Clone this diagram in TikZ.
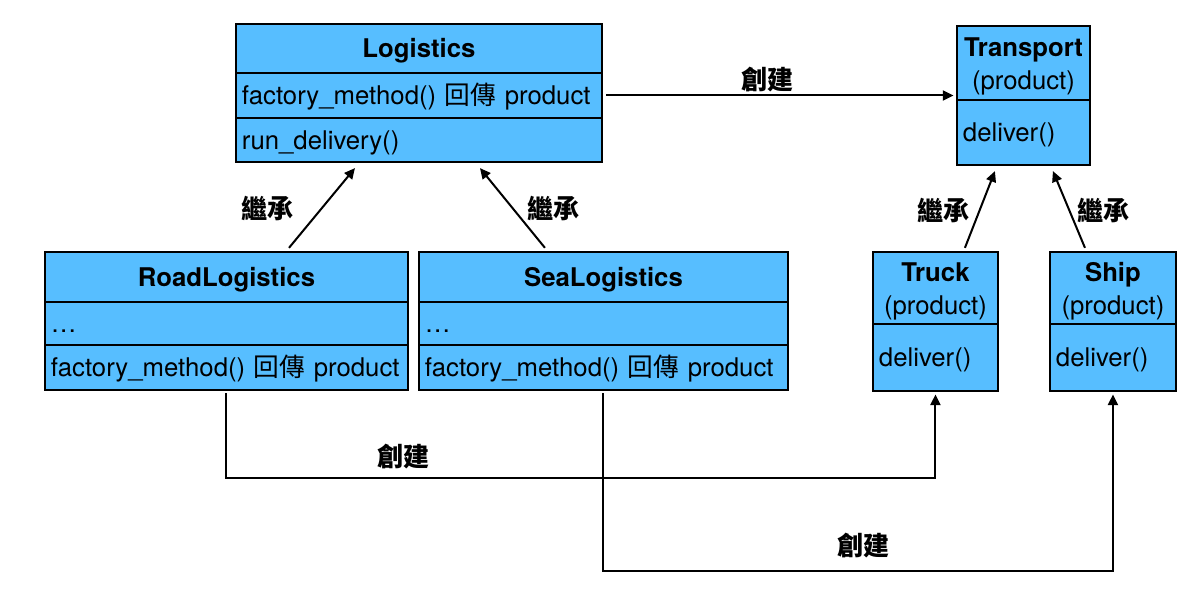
\documentclass[tikz,border=0pt]{standalone}
\usepackage{fontspec}
\setmainfont{TeX Gyre Heros}
\newfontfamily\cjk{Noto Sans CJK TC}
\usetikzlibrary{arrows.meta}
\definecolor{ublue}{RGB}{87,190,255}
\begin{document}
\begin{tikzpicture}[x=0.75pt,y=-0.75pt,
  comp/.style={draw=black, line width=2.2pt, fill=ublue, anchor=north west,
    inner xsep=4.5pt, inner ysep=0pt, font=\fontsize{19.3}{24.5}\selectfont,
    execute at begin node={\rule[-5pt]{0pt}{24.2pt}}},
  ctr/.style={align=center},
  lft/.style={align=left},
  lbl/.style={font=\fontsize{19.5}{22}\selectfont\cjk\bfseries, inner sep=0pt},
  arr/.style={line width=1.5pt, -{Triangle[length=8pt,width=7.5pt]}},
  link/.style={line width=1.5pt}]
\useasboundingbox (0,0) rectangle (1204,597);

% Logistics
\node[comp, ctr, text width=265.5pt, minimum height=36.75pt] (logT) at (234.5,22.5) {\bfseries Logistics};
\node[comp, lft, text width=265.5pt, minimum height=33.75pt] (logM) at (234.5,71.5) {factory\_method() {\cjk 回傳} product};
\node[comp, lft, text width=265.5pt, minimum height=33pt] (logB) at (234.5,116.5) {run\_delivery()};

% Transport
\node[comp, ctr, text width=90.75pt, minimum height=55.5pt] (trT) at (955.5,24.5) {\textbf{Transport}\\(product)};
\node[comp, lft, text width=90.75pt, minimum height=48.75pt] (trB) at (955.5,98.5) {deliver()};

% Truck
\node[comp, ctr, text width=84.75pt, minimum height=54pt] (tkT) at (871.5,250.5) {\textbf{Truck}\\(product)};
\node[comp, lft, text width=84.75pt, minimum height=50.25pt] (tkB) at (871.5,322.5) {deliver()};

% Ship
\node[comp, ctr, text width=85.5pt, minimum height=54pt] (shT) at (1048.5,250.5) {\textbf{Ship}\\(product)};
\node[comp, lft, text width=85.5pt, minimum height=50.25pt] (shB) at (1048.5,322.5) {deliver()};

% RoadLogistics
\node[comp, ctr, text width=263.25pt, minimum height=37.5pt] (rdT) at (43.5,250.5) {\bfseries RoadLogistics};
\node[comp, lft, text width=263.25pt, minimum height=32.25pt] (rdM) at (43.5,300.5) {…};
\node[comp, lft, text width=263.25pt, minimum height=33.75pt] (rdB) at (43.5,343.5) {factory\_method() {\cjk 回傳} product};

% SeaLogistics
\node[comp, ctr, text width=267.75pt, minimum height=37.5pt] (seT) at (417.5,250.5) {\bfseries SeaLogistics};
\node[comp, lft, text width=267.75pt, minimum height=32.25pt] (seM) at (417.5,300.5) {…};
\node[comp, lft, text width=267.75pt, minimum height=33.75pt] (seB) at (417.5,343.5) {factory\_method() {\cjk 回傳} product};

% labels
\node[lbl] (c1) at (767,80) {創建};
\node[lbl] (c2) at (403,457) {創建};
\node[lbl] (c3) at (863,546) {創建};
\node[lbl] (i1) at (267,208) {繼承};
\node[lbl] (i2) at (553,208) {繼承};
\node[lbl] (i3) at (943,210) {繼承};
\node[lbl] (i4) at (1103,210) {繼承};

% connectors
\draw[arr, shorten <=2pt, shorten >=1.5pt] (logM.east) -- (logM.east -| trT.west);
\draw[arr] ([xshift=46.9pt,yshift=2pt]rdT.north) -- ([xshift=-48pt,yshift=-3.5pt]logB.south);
\draw[arr] ([xshift=-43.9pt,yshift=2pt]seT.north) -- ([xshift=45.75pt,yshift=-3.5pt]logB.south);
\draw[arr] ([xshift=22.1pt,yshift=2pt]tkT.north) -- ([xshift=-21.4pt,yshift=-3.5pt]trB.south);
\draw[arr] ([xshift=-21pt,yshift=2pt]shT.north) -- ([xshift=22.1pt,yshift=-3.5pt]trB.south);
\draw[arr, shorten <=1.5pt, shorten >=1.5pt] (rdB.south) -- ++(0,87) -| (tkB.south);
\draw[arr, shorten <=1.5pt, shorten >=1.5pt] (seB.south) -- ++(0,180) -| (shB.south);
\end{tikzpicture}
\end{document}
